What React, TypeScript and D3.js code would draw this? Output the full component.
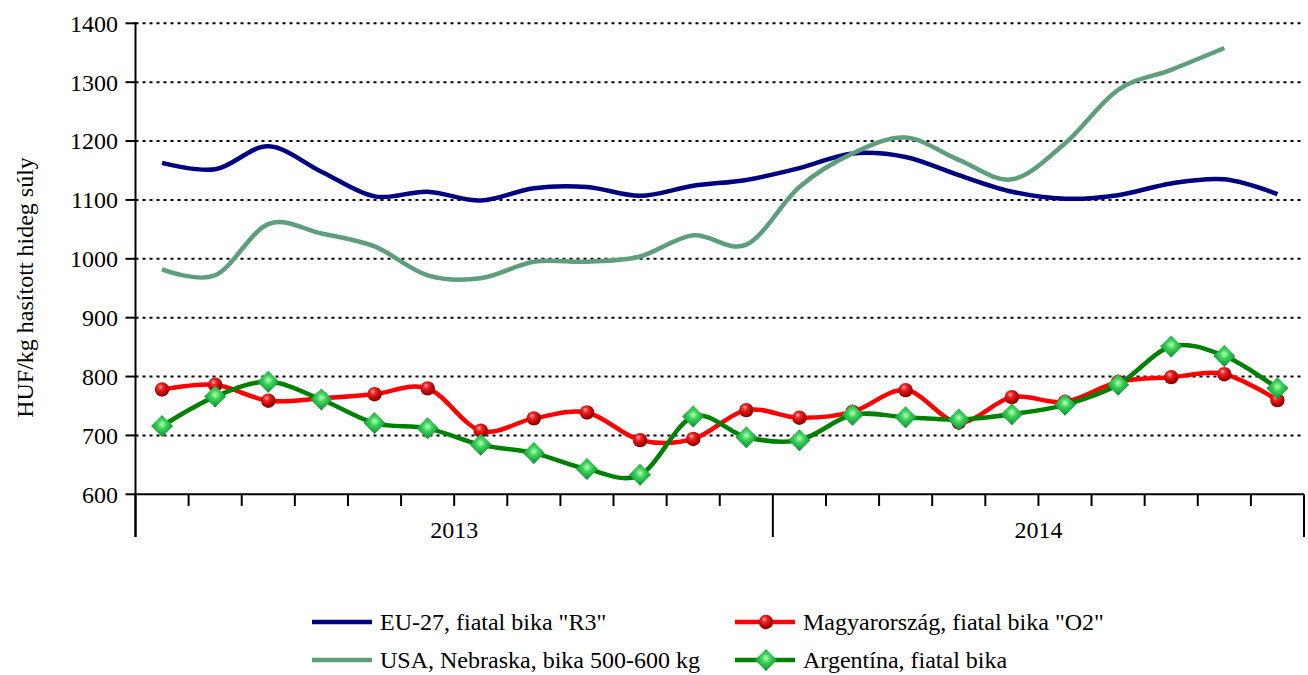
import * as d3 from 'd3'

const months = [
  '2013-01', '2013-02', '2013-03', '2013-04', '2013-05', '2013-06',
  '2013-07', '2013-08', '2013-09', '2013-10', '2013-11', '2013-12',
  '2014-01', '2014-02', '2014-03', '2014-04', '2014-05', '2014-06',
  '2014-07', '2014-08', '2014-09', '2014-10',
]
const yearLabels = ['2013', '2014']
const yTicks = [600, 700, 800, 900, 1000, 1100, 1200, 1300, 1400]

const eu27 = [1163, 1152, 1191, 1148, 1106, 1114, 1099, 1120, 1122, 1107, 1124, 1134, 1154, 1179, 1173, 1142, 1114, 1102, 1108, 1128, 1135, 1110]
const hungary = [778, 786, 759, 763, 770, 780, 708, 729, 739, 692, 694, 743, 730, 740, 777, 722, 765, 757, 791, 799, 804, 760]
const usa = [982, 972, 1059, 1043, 1021, 972, 967, 995, 995, 1004, 1040, 1024, 1122, 1179, 1206, 1168, 1135, 1196, 1287, 1321, 1358]
const argentina = [716, 766, 791, 761, 721, 712, 684, 670, 643, 633, 732, 697, 692, 735, 731, 727, 736, 752, 786, 851, 835, 780]

type Marker = 'none' | 'sphere' | 'diamond'
const series: Array<{ key: string; label: string; values: number[]; color: string; marker: Marker }> = [
  { key: 'eu', label: 'EU-27, fiatal bika "R3"', values: eu27, color: '#000080', marker: 'none' },
  { key: 'hu', label: 'Magyarország, fiatal bika "O2"', values: hungary, color: '#ff0000', marker: 'sphere' },
  { key: 'usa', label: 'USA, Nebraska, bika 500-600 kg', values: usa, color: '#5f9e7d', marker: 'none' },
  { key: 'ar', label: 'Argentína, fiatal bika', values: argentina, color: '#008000', marker: 'diamond' },
]

const textStyle = { fontFamily: "'Liberation Serif', 'Times New Roman', Times, serif", fontSize: '24px' }

function MarkerShape({ kind, cx, cy }: { kind: Marker; cx: number; cy: number }) {
  if (kind === 'sphere') {
    return <circle cx={cx} cy={cy} r={7.2} fill="url(#sphereGrad)" />
  }
  if (kind === 'diamond') {
    const s = 11
    return (
      <path
        d={`M${cx},${cy - s}L${cx + s},${cy}L${cx},${cy + s}L${cx - s},${cy}Z`}
        fill="url(#diamondGrad)"
      />
    )
  }
  return null
}

export default function App() {
  const width = 1308
  const height = 675
  const plot = { left: 135.5, right: 1304, top: 23.3, bottom: 494.3 }

  const x = d3.scaleBand<string>().domain(months).range([plot.left, plot.right]).paddingInner(0).paddingOuter(0)
  const y = d3.scaleLinear().domain([600, 1400]).range([plot.bottom, plot.top])
  const cx = (i: number) => (x(months[i]) ?? 0) + x.bandwidth() / 2

  const line = d3
    .line<number>()
    .x((_, i) => cx(i))
    .y((v) => y(v))
    .curve(d3.curveCatmullRom.alpha(0))

  const boundaries = d3.range(months.length + 1)
  const majorIdx = [0, 12, months.length]
  const bx = (i: number) => plot.left + i * x.bandwidth()

  const legendRows = [
    { s: series[0], lx: 312, ly: 622 },
    { s: series[1], lx: 735, ly: 622 },
    { s: series[2], lx: 312, ly: 660 },
    { s: series[3], lx: 735, ly: 660 },
  ]

  return (
    <svg
      width={width}
      height={height}
      viewBox={`0 0 ${width} ${height}`}
      style={{ position: 'absolute', left: 0, top: 0, background: '#fff' }}
    >
      <defs>
        <radialGradient id="sphereGrad" cx="42%" cy="38%" r="62%" fx="38%" fy="30%">
          <stop offset="0%" stopColor="#ffb0b0" />
          <stop offset="30%" stopColor="#f02828" />
          <stop offset="75%" stopColor="#b80000" />
          <stop offset="100%" stopColor="#7a0000" />
        </radialGradient>
        <radialGradient id="diamondGrad" cx="50%" cy="42%" r="60%">
          <stop offset="0%" stopColor="#b6ffb6" />
          <stop offset="35%" stopColor="#3ad25a" />
          <stop offset="80%" stopColor="#179c3a" />
          <stop offset="100%" stopColor="#0c6e28" />
        </radialGradient>
      </defs>

      {/* grid */}
      {yTicks.slice(1).map((t) => (
        <line
          key={t}
          x1={plot.left}
          x2={plot.right}
          y1={y(t)}
          y2={y(t)}
          stroke="#000"
          strokeWidth={2}
          strokeDasharray="3 4"
        />
      ))}

      {/* y axis */}
      <line x1={plot.left} x2={plot.left} y1={plot.top - 1} y2={537} stroke="#000" strokeWidth={2} />
      {yTicks.map((t) => (
        <g key={t}>
          <line x1={plot.left - 10} x2={plot.left} y1={y(t)} y2={y(t)} stroke="#000" strokeWidth={2} />
          <text x={118} y={y(t)} dy="0.35em" textAnchor="end" style={textStyle} fill="#000">
            {t}
          </text>
        </g>
      ))}
      <text
        transform={`translate(33,${(155 + 420) / 2}) rotate(-90)`}
        textAnchor="middle"
        style={textStyle}
        fill="#000"
      >
        HUF/kg hasított hideg súly
      </text>

      {/* x axis */}
      <line x1={plot.left} x2={plot.right} y1={plot.bottom} y2={plot.bottom} stroke="#000" strokeWidth={2} />
      {boundaries.map((i) => (
        <line
          key={i}
          x1={bx(i)}
          x2={bx(i)}
          y1={plot.bottom}
          y2={majorIdx.includes(i) ? 537 : 506}
          stroke="#000"
          strokeWidth={2}
        />
      ))}
      {yearLabels.map((label, k) => (
        <text
          key={label}
          x={(bx(majorIdx[k]) + bx(majorIdx[k + 1])) / 2}
          y={538}
          textAnchor="middle"
          style={textStyle}
          fill="#000"
        >
          {label}
        </text>
      ))}

      {/* series */}
      {series.map((s) => (
        <g key={s.key}>
          <path d={line(s.values) ?? ''} fill="none" stroke={s.color} strokeWidth={4.5} strokeLinejoin="round" />
          {s.values.map((v, i) => (
            <MarkerShape key={i} kind={s.marker} cx={cx(i)} cy={y(v)} />
          ))}
        </g>
      ))}

      {/* legend */}
      {legendRows.map(({ s, lx, ly }) => (
        <g key={s.key}>
          <line x1={lx} x2={lx + 60} y1={ly} y2={ly} stroke={s.color} strokeWidth={4.5} />
          <MarkerShape kind={s.marker} cx={lx + 31} cy={ly} />
          <text x={lx + 68} y={ly + 8} style={textStyle} fill="#000">
            {s.label}
          </text>
        </g>
      ))}
    </svg>
  )
}
